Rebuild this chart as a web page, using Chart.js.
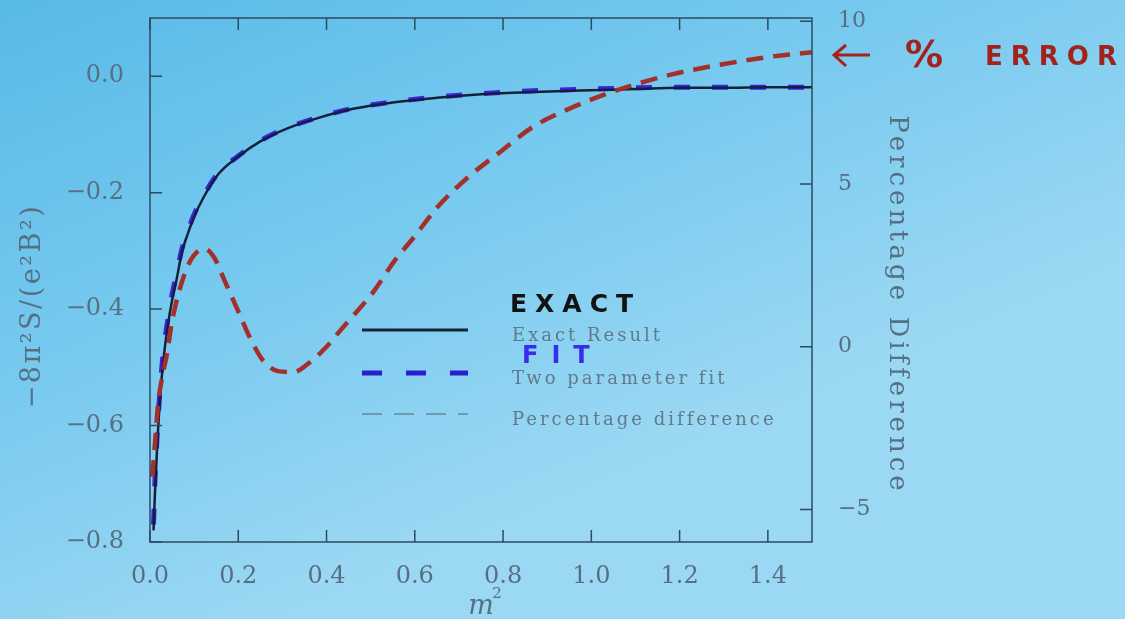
<!DOCTYPE html>
<html>
<head>
<meta charset="utf-8">
<script src="https://cdn.jsdelivr.net/npm/chart.js@4/dist/chart.umd.min.js"></script>
<style>
  html, body { margin: 0; padding: 0; background: #78c9ee; }
  #wrap { width: 1125px; height: 619px; }
</style>
</head>
<body>
<div id="wrap"><canvas id="chart" width="1125" height="619"></canvas></div>
<script>
// m^2 values for the exact result and the fit
const mSq = [0.008, 0.011, 0.016, 0.023, 0.03, 0.04, 0.05, 0.06, 0.073, 0.085, 0.098, 0.12, 0.155, 0.2,
  0.25, 0.31, 0.38, 0.46, 0.55, 0.65, 0.75, 0.87, 1.0, 1.1, 1.2, 1.3, 1.4, 1.5];
const exactVals = [-0.78, -0.72, -0.64, -0.55, -0.49, -0.43, -0.385, -0.35, -0.30, -0.272, -0.245, -0.21, -0.168, -0.138,
  -0.112, -0.09, -0.072, -0.056, -0.045, -0.037, -0.031, -0.027, -0.024, -0.022, -0.020, -0.020, -0.019, -0.019];
const fitVals = [-0.77, -0.70, -0.62, -0.535, -0.475, -0.42, -0.375, -0.34, -0.295, -0.268, -0.241, -0.207, -0.166, -0.137,
  -0.111, -0.089, -0.071, -0.055, -0.044, -0.036, -0.030, -0.025, -0.022, -0.020, -0.019, -0.019, -0.019, -0.019];

// percentage difference (right axis)
const pctX = [0.005, 0.01, 0.018, 0.028, 0.038, 0.05, 0.068, 0.09, 0.11, 0.125, 0.145, 0.17, 0.197, 0.227, 0.257, 0.29,
  0.325, 0.36, 0.4, 0.43, 0.47, 0.507, 0.552, 0.6, 0.652, 0.72, 0.795, 0.866, 0.948, 1.05, 1.18, 1.29, 1.4, 1.5];
const pctVals = [-4.0, -3.2, -1.8, -0.9, -0.26, 0.78, 1.8, 2.6, 2.95, 3.0, 2.75, 2.0, 1.18, 0.26, -0.44, -0.75,
  -0.78, -0.5, 0.0, 0.48, 1.1, 1.7, 2.6, 3.4, 4.3, 5.2, 6.0, 6.74, 7.3, 7.84, 8.36, 8.66, 8.9, 9.05];

// axis ticks
const xTicks = [0.0, 0.2, 0.4, 0.6, 0.8, 1.0, 1.2, 1.4];
const leftTicks = [-0.8, -0.6, -0.4, -0.2, 0.0];
const rightTicks = [-5, 0, 5, 10];

const legendLabels = ['Exact Result', 'Two parameter fit', 'Percentage difference'];

const labelColor = '#566f82';
const frameColor = '#2d4b60';

function keepTicks(list) {
  return (scale) => {
    scale.ticks = list.map(v => ({ value: v }));
  };
}

// pin the plot box: no extra room for the end labels
function fixBox(size, horizontal) {
  return (s) => {
    if (horizontal) {
      s.height = size;
      s.paddingLeft = 0; s.paddingRight = 0;
    } else {
      s.width = size;
      s.paddingTop = 0; s.paddingBottom = 0;
    }
  };
}

const pagePlugin = {
  id: 'page',
  beforeDraw(chart) {
    const c = chart.ctx;
    const g = c.createLinearGradient(0, 0, 260, 619);
    g.addColorStop(0, '#58bae8');
    g.addColorStop(0.55, '#79caef');
    g.addColorStop(1, '#9bd8f3');
    c.save();
    c.fillStyle = g;
    c.fillRect(0, 0, chart.width, chart.height);
    c.restore();
  },
  afterDraw(chart) {
    const c = chart.ctx;
    const a = chart.chartArea;
    const sx = chart.scales.x, sy = chart.scales.y, sy2 = chart.scales.y2;
    c.save();

    // frame
    c.strokeStyle = frameColor;
    c.lineWidth = 1.5;
    c.strokeRect(a.left, a.top, a.right - a.left, a.bottom - a.top);

    // inner tick marks
    c.beginPath();
    xTicks.forEach(v => {
      const px = sx.getPixelForValue(v);
      c.moveTo(px, a.bottom); c.lineTo(px, a.bottom - 12);
      c.moveTo(px, a.top); c.lineTo(px, a.top + 12);
    });
    leftTicks.forEach(v => {
      const py = sy.getPixelForValue(v);
      c.moveTo(a.left, py); c.lineTo(a.left + 12, py);
    });
    rightTicks.forEach(v => {
      const py = sy2.getPixelForValue(v);
      c.moveTo(a.right, py); c.lineTo(a.right - 12, py);
    });
    c.stroke();

    // axis titles
    c.fillStyle = labelColor;
    c.textAlign = 'center';
    c.textBaseline = 'middle';
    c.save();
    c.translate(33, 306);
    c.rotate(-Math.PI / 2);
    c.font = '27px "DejaVu Serif"';
    c.letterSpacing = '2.5px';
    c.fillText('−8π²S/(e²B²)', 0, 0);
    c.restore();

    c.save();
    c.translate(897, 305);
    c.rotate(Math.PI / 2);
    c.font = '26px "DejaVu Serif"';
    c.letterSpacing = '4px';
    c.fillText('Percentage Difference', 0, 0);
    c.restore();

    c.font = 'italic 27px "DejaVu Serif"';
    c.fillText('m', 481, 607);
    c.font = '15px "DejaVu Serif"';
    c.fillText('2', 497, 594);

    // legend
    const lx0 = 362, lx1 = 468, tx = 512;
    const rows = [
      { y: 330, color: '#15233a', width: 3, dash: [] },
      { y: 373, color: '#2a1fd0', width: 5, dash: [20, 24] },
      { y: 414, color: '#6a8697', width: 1.3, dash: [20, 12] }
    ];
    rows.forEach((r, i) => {
      c.beginPath();
      c.strokeStyle = r.color;
      c.lineWidth = r.width;
      c.setLineDash(r.dash);
      c.moveTo(lx0, r.y); c.lineTo(lx1, r.y);
      c.stroke();
      c.setLineDash([]);
      c.fillStyle = '#61798b';
      c.font = '18px "DejaVu Serif"';
      c.letterSpacing = '3px';
      c.textAlign = 'left';
      c.fillText(legendLabels[i], tx, r.y + 6);
    });

    // handwritten notes
    c.letterSpacing = '8px';
    c.font = 'bold 25px "DejaVu Sans"';
    c.fillStyle = '#121212';
    c.fillText('EXACT', 510, 305);
    c.fillStyle = '#3b2bea';
    c.letterSpacing = '13px';
    c.font = 'bold 24px "DejaVu Sans"';
    c.fillText('FIT', 522, 357);

    c.strokeStyle = '#a3231c';
    c.fillStyle = '#a3231c';
    c.lineWidth = 3;
    c.beginPath();
    c.moveTo(870, 55); c.lineTo(834, 55);
    c.moveTo(846, 45); c.lineTo(834, 55); c.lineTo(846, 66);
    c.stroke();
    c.letterSpacing = '0px';
    c.font = 'bold 38px "DejaVu Sans"';
    c.fillText('%', 905, 57);
    c.letterSpacing = '8px';
    c.font = 'bold 26px "DejaVu Sans"';
    c.fillText('ERROR', 985, 58);

    c.restore();
  }
};

new Chart(document.getElementById('chart'), {
  type: 'line',
  data: {
    datasets: [
      {
        label: legendLabels[2],
        data: pctX.map((x, i) => ({ x: x, y: pctVals[i] })),
        yAxisID: 'y2',
        borderColor: '#a3302a',
        borderWidth: 4.5,
        borderDash: [17, 10],
        pointRadius: 0,
        cubicInterpolationMode: 'monotone'
      },
      {
        label: legendLabels[0],
        data: mSq.map((x, i) => ({ x: x, y: exactVals[i] })),
        yAxisID: 'y',
        borderColor: '#14203a',
        borderWidth: 2.5,
        pointRadius: 0,
        cubicInterpolationMode: 'monotone'
      },
      {
        label: legendLabels[1],
        data: mSq.map((x, i) => ({ x: x, y: fitVals[i] })),
        yAxisID: 'y',
        borderColor: '#3a22e0',
        borderWidth: 5,
        borderDash: [16, 22],
        pointRadius: 0,
        cubicInterpolationMode: 'monotone'
      }
    ]
  },
  options: {
    responsive: false,
    animation: false,
    devicePixelRatio: 1,
    layout: { padding: { top: 18, left: 0, right: 0, bottom: 0 } },
    plugins: { legend: { display: false }, tooltip: { enabled: false } },
    scales: {
      x: {
        type: 'linear',
        min: 0, max: 1.5,
        afterBuildTicks: keepTicks(xTicks),
        afterFit: fixBox(77, true),
        grid: { display: false, drawTicks: false },
        border: { display: false },
        ticks: {
          color: labelColor,
          font: { family: 'DejaVu Serif', size: 24 },
          padding: 20,
          maxRotation: 0,
          callback: (v) => Number(v).toFixed(1)
        }
      },
      y: {
        position: 'left',
        min: -0.8, max: 0.1,
        afterBuildTicks: keepTicks(leftTicks),
        afterFit: fixBox(150, false),
        grid: { display: false, drawTicks: false },
        border: { display: false },
        ticks: {
          color: labelColor,
          font: { family: 'DejaVu Serif', size: 24 },
          padding: 26,
          callback: (v) => v === 0 ? '0.0' : '−' + Math.abs(v).toFixed(1)
        }
      },
      y2: {
        position: 'right',
        min: -6, max: 10.1,
        afterBuildTicks: keepTicks(rightTicks),
        afterFit: fixBox(313, false),
        grid: { display: false, drawTicks: false },
        border: { display: false },
        ticks: {
          color: labelColor,
          font: { family: 'DejaVu Serif', size: 22 },
          padding: 26,
          callback: (v) => v < 0 ? '−' + Math.abs(v) : String(v)
        }
      }
    }
  },
  plugins: [pagePlugin]
});
</script>
</body>
</html>
